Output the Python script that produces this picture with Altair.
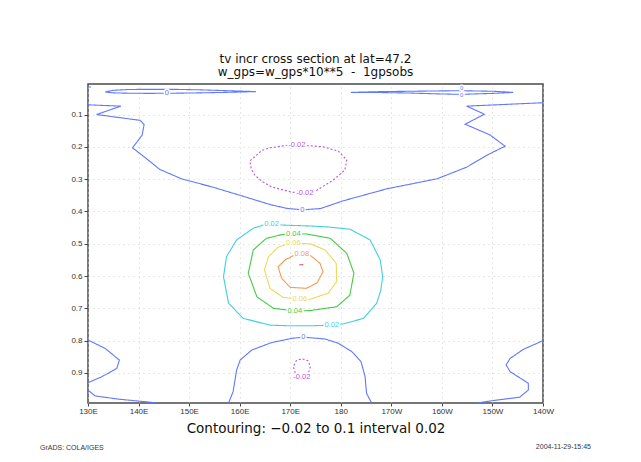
import altair as alt
import pandas as pd

# ---------------- data (lon in degrees east, sigma) ----------------
lensL_lon = [133.4, 135, 138, 142, 147, 152, 157, 163.2, 157, 152, 147, 142, 138, 135, 133.4]
lensL_sig = [0.030, 0.025, 0.0225, 0.022, 0.022, 0.0235, 0.026, 0.029, 0.0315, 0.033, 0.034, 0.0345, 0.034, 0.033, 0.030]

lensR_lon = [182.0, 188, 193.7, 199, 203.6, 210.2, 214.1, 210.2, 203.6, 199, 193.7, 188, 182.0]
lensR_sig = [0.0314, 0.029, 0.028, 0.027, 0.0263, 0.028, 0.0314, 0.0345, 0.0376, 0.036, 0.0335, 0.032, 0.0314]

corner_lon = [130, 130.6]
corner_sig = [0.0145, 0.0150]

zero_top_lon = [130, 136.5, 131.7, 140.3, 141.1, 140.7, 138.8, 141.6, 144.2, 148.5, 154.5, 161.1, 166.3,
                169.5, 172.5, 176, 180.5, 189.1, 199.0, 204.9, 208.9, 212.5, 209.5, 204.6, 208.4, 204.9, 220]
zero_top_sig = [0.070, 0.074, 0.100, 0.118, 0.131, 0.164, 0.203, 0.237, 0.270, 0.299, 0.324, 0.355, 0.380,
                0.391, 0.395, 0.391, 0.367, 0.330, 0.299, 0.263, 0.226, 0.198, 0.163, 0.130, 0.099, 0.074, 0.0635]

neg_up_lon = [169.5, 166, 164.4, 162, 162.3, 163.0, 164.5, 166.3, 170.2, 172.9, 175.2, 178.5, 180.8, 181.2,
              179.5, 176.5, 172.5, 169.5]
neg_up_sig = [0.195, 0.203, 0.211, 0.244, 0.268, 0.288, 0.308, 0.324, 0.340, 0.344, 0.335, 0.303, 0.272, 0.241,
              0.213, 0.200, 0.195, 0.195]

c002_lon = [164.7, 166.3, 170, 173.9, 177.5, 181.8, 185.8, 187.8, 188.3, 187.9, 187.1, 184.5, 180.5, 178.2,
            173.9, 170, 166, 160.7, 157.8, 156.8, 157.4, 159.4, 162.7, 164.7]
c002_sig = [0.442, 0.441, 0.443, 0.445, 0.448, 0.455, 0.488, 0.550, 0.602, 0.645, 0.684, 0.731, 0.748, 0.752,
            0.754, 0.754, 0.752, 0.731, 0.684, 0.602, 0.540, 0.488, 0.452, 0.442]

c004_lon = [168.6, 170.6, 173.3, 177.9, 181.2, 182.6, 181.8, 179.2, 173.9, 170.9, 166.7, 163.4, 161.7, 162.7, 165.3, 168.6]
c004_sig = [0.471, 0.470, 0.470, 0.483, 0.530, 0.591, 0.659, 0.695, 0.707, 0.708, 0.700, 0.664, 0.591, 0.519, 0.483, 0.471]

c006_lon = [169.3, 170.6, 173.9, 176.9, 179.1, 179.2, 177.5, 173.9, 171.9, 168.6, 166, 164.9, 165.7, 167.6, 169.3]
c006_sig = [0.501, 0.499, 0.500, 0.519, 0.561, 0.617, 0.653, 0.672, 0.672, 0.666, 0.638, 0.581, 0.540, 0.511, 0.501]

c008_lon = [170.6, 172.3, 173.9, 175.9, 176.5, 175.3, 173.2, 170.0, 168.3, 167.6, 169.0, 170.6]
c008_sig = [0.537, 0.531, 0.535, 0.561, 0.587, 0.621, 0.638, 0.635, 0.607, 0.571, 0.550, 0.537]

c010_lon = [171.8, 172.6]
c010_sig = [0.565, 0.565]

dome_lon = [157.8, 158.7, 159.4, 160.1, 162.4, 166.3, 170.3, 172.6, 176.9, 179.5, 182.2, 184.0, 184.8, 185.1, 186.1]
dome_sig = [0.993, 0.958, 0.891, 0.860, 0.829, 0.806, 0.793, 0.789, 0.795, 0.808, 0.834, 0.865, 0.911, 0.963, 0.993]

neg_lo_lon = [171.0, 170.6, 171.2, 172.3, 173.5, 174.0, 173.6, 172.3, 171.0]
neg_lo_sig = [0.900, 0.880, 0.862, 0.856, 0.862, 0.880, 0.900, 0.906, 0.900]

bl1_lon = [130, 133.4, 136.2, 135.7, 132.7, 130]
bl1_sig = [0.798, 0.824, 0.860, 0.886, 0.912, 0.930]

bl2_lon = [130, 131.4, 136, 142.6, 143.5]
bl2_sig = [0.953, 0.971, 0.981, 0.991, 0.993]

br_lon = [220, 216.1, 213.5, 212.7, 213.5, 217.1, 217.1, 215.4, 210.8, 206.9]
br_sig = [0.800, 0.827, 0.855, 0.875, 0.896, 0.932, 0.953, 0.975, 0.984, 0.993]

# contour labels
lab_lon = [145.6, 203.9, 203.9, 172.4, 171.3, 172.9, 166.3, 178.2, 170.6, 170.9, 170.6, 171.9, 172.3, 172.6, 172.3]
lab_sig = [0.0345, 0.0185, 0.0385, 0.395, 0.195, 0.344, 0.440, 0.752, 0.471, 0.708, 0.499, 0.672, 0.531, 0.789, 0.914]
lab_txt = ["0", "0", "0", "0", "-0.02", "-0.02", "0.02", "0.02", "0.04", "0.04", "0.06", "0.06", "0.08", "0", "-0.02"]
lab_size = [7.5, 6, 6, 7.5, 7.5, 7.5, 7.5, 7.5, 7.5, 7.5, 7.5, 7.5, 7.5, 7.5, 7.5]

levels = ["-0.02", "0", "0.02", "0.04", "0.06", "0.08", "0.1"]
level_colors = ["#b857e0", "#6078ff", "#40d0dc", "#44cc44", "#ecd85a", "#f49a52", "#e23c70"]

lon_ticks = [130, 140, 150, 160, 170, 180, 190, 200, 210, 220]
lon_tick_labels = ["130E", "140E", "150E", "160E", "170E", "180", "170W", "160W", "150W", "140W"]
sig_ticks = [0.1, 0.2, 0.3, 0.4, 0.5, 0.6, 0.7, 0.8, 0.9]
sig_tick_labels = ["0.1", "0.2", "0.3", "0.4", "0.5", "0.6", "0.7", "0.8", "0.9"]

NB = "\u00a0"
title_lines = ["tv incr cross section at lat=47.2", f"w_gps=w_gps*10**5{NB}{NB}-{NB}{NB}1gpsobs"]
bottom_title = "Contouring: \u22120.02 to 0.1 interval 0.02"
foot_left = "GrADS: COLA/IGES"
foot_right = "2004-11-29-15:45"

# ---------------- build tables ----------------
contours = [
    ("lensL", "0", lensL_lon, lensL_sig), ("lensR", "0", lensR_lon, lensR_sig),
    ("corner", "0", corner_lon, corner_sig), ("zero_top", "0", zero_top_lon, zero_top_sig),
    ("neg_up", "-0.02", neg_up_lon, neg_up_sig), ("c002", "0.02", c002_lon, c002_sig),
    ("c004", "0.04", c004_lon, c004_sig), ("c006", "0.06", c006_lon, c006_sig),
    ("c008", "0.08", c008_lon, c008_sig), ("c010", "0.1", c010_lon, c010_sig),
    ("dome", "0", dome_lon, dome_sig), ("neg_lo", "-0.02", neg_lo_lon, neg_lo_sig),
    ("bl1", "0", bl1_lon, bl1_sig), ("bl2", "0", bl2_lon, bl2_sig), ("br", "0", br_lon, br_sig),
]
rows = []
for cid, lev, lons, sigs in contours:
    for i, (a, b) in enumerate(zip(lons, sigs)):
        rows.append({"cid": cid, "lev": lev, "lon": a, "sig": b, "ord": i,
                     "style": "dash" if lev.startswith("-") else "solid"})
lines_df = pd.DataFrame(rows)

labels_df = pd.DataFrame({"lon": lab_lon, "sig": lab_sig, "txt": lab_txt, "lev": lab_txt, "sz": lab_size})


def lookup_expr(vals, labs):
    e = "''"
    for v, l in reversed(list(zip(vals, labs))):
        e = f"abs(datum.value - {v}) < 1e-6 ? '{l}' : ({e})"
    return e


FONT = "Liberation Sans"
TFONT = "DejaVu Sans"

xscale = alt.Scale(domain=[130, 220], nice=False, zero=False)
yscale = alt.Scale(domain=[0.0055, 0.993], reverse=True, nice=False, zero=False)
cscale = alt.Scale(domain=levels, range=level_colors)

xaxis = alt.Axis(values=lon_ticks, labelExpr=lookup_expr(lon_ticks, lon_tick_labels), title=bottom_title,
                 titleFontSize=13.5, titleFont=TFONT, titleFontWeight="normal", titleColor="#111",
                 titlePadding=6, labelFontSize=8, labelFont=FONT, labelColor="#333", labelPadding=1,
                 tickSize=3, tickColor="#444", domain=False, grid=True, gridDash=[1, 4],
                 gridColor="#cfcfcf", labelOverlap=False, labelFlush=False)
yaxis = alt.Axis(values=sig_ticks, labelExpr=lookup_expr(sig_ticks, sig_tick_labels), title=None,
                 labelFontSize=8, labelFont=FONT, labelColor="#333", labelPadding=2, tickSize=4,
                 tickColor="#444", domain=False, grid=True, gridDash=[1, 4], gridColor="#cfcfcf",
                 labelOverlap=False, labelFlush=False, labelSeparation=0)

X = alt.X("lon:Q", scale=xscale, axis=xaxis)
Y = alt.Y("sig:Q", scale=yscale, axis=yaxis)

lines = alt.Chart(lines_df).mark_line(strokeWidth=1.1, clip=True).encode(
    x=X, y=Y,
    detail="cid:N",
    order="ord:Q",
    color=alt.Color("lev:N", scale=cscale, legend=None),
    strokeDash=alt.StrokeDash("style:N", scale=alt.Scale(domain=["solid", "dash"], range=[[1, 0], [2, 2]]),
                              legend=None),
)

halo = alt.Chart(labels_df).mark_text(font=FONT, stroke="white", strokeWidth=3,
                                      fill="white", baseline="middle").encode(
    x=X, y=Y, text="txt:N",
    size=alt.Size("sz:Q", scale=None, legend=None))
labels = alt.Chart(labels_df).mark_text(font=FONT, baseline="middle").encode(
    x=X, y=Y, text="txt:N",
    size=alt.Size("sz:Q", scale=None, legend=None),
    color=alt.Color("lev:N", scale=cscale, legend=None))

foot_df = pd.DataFrame({"t": [foot_left]})
footL = alt.Chart(foot_df).mark_text(fontSize=7, font=FONT, color="#333", align="left",
                                     baseline="middle").encode(
    x=alt.value(-48), y=alt.value(364), text="t:N")
foot_df2 = pd.DataFrame({"t": [foot_right]})
footR = alt.Chart(foot_df2).mark_text(fontSize=7, font=FONT, color="#333", align="right",
                                      baseline="middle").encode(
    x=alt.value(503), y=alt.value(363), text="t:N")

chart = alt.layer(lines, halo, labels, footL, footR).properties(
    width=455, height=319,
    autosize=alt.AutoSizeParams(type="none"),
    padding={"left": 80, "top": 76, "right": 90, "bottom": 51},
    title=alt.TitleParams(text=title_lines, fontSize=12, font=TFONT, fontWeight="normal",
                          color="#111", anchor="middle", offset=5, lineHeight=13.5),
    background="white",
).configure_view(stroke="#4a4a4a", strokeWidth=1.5).configure_axisY(labelOverlap=False)

chart.save("out.html", embed_options={"renderer": "svg", "actions": False})
